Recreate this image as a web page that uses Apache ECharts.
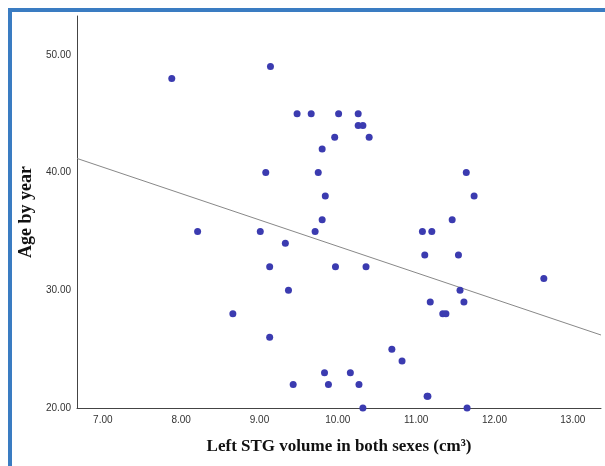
<!DOCTYPE html>
<html>
<head>
<meta charset="utf-8">
<script src="https://cdn.jsdelivr.net/npm/echarts@6/dist/echarts.min.js"></script>
<style>
  html, body { margin: 0; padding: 0; background: #fff; }
  #chart { width: 605px; height: 466px; }
</style>
</head>
<body>
<div id="chart"></div>
<script>
// left STG volume (cm3) and age
var volume = [
  7.88, 9.14, 9.48, 9.66, 10.01, 10.26, 10.26, 10.32, 9.96, 10.40,
  9.80, 9.08, 9.75, 11.64, 9.84, 11.74, 9.80, 11.46, 8.21, 9.01,
  9.71, 11.08, 11.20, 9.33, 11.11, 11.54, 9.13, 9.97, 10.36, 12.63,
  9.37, 11.56, 11.18, 11.61, 8.66, 11.34, 11.38, 9.13, 10.69, 10.82,
  9.83, 10.16, 9.43, 9.88, 10.27, 11.14, 11.15, 10.32, 11.65
];
var age = [
  48, 49, 45, 45, 45, 45, 44, 44, 43, 43,
  42, 40, 40, 40, 38, 38, 36, 36, 35, 35,
  35, 35, 35, 34, 33, 33, 32, 32, 32, 31,
  30, 30, 29, 29, 28, 28, 28, 26, 25, 24,
  23, 23, 22, 22, 22, 21, 21, 20, 20
];
// fit line ends as drawn
var fitX = [6.67, 13.36];
var fitY = [41.2, 26.2];
var xTicks = [7, 8, 9, 10, 11, 12, 13];
var yTicks = [20, 30, 40, 50];

var points = volume.map(function (v, i) { return [v, age[i]]; });
var fit = fitX.map(function (v, i) { return [v, fitY[i]]; });

var chart = echarts.init(document.getElementById('chart'));
chart.setOption({
  backgroundColor: '#fff',
  animation: false,
  graphic: [{
    type: 'rect',
    shape: { x: 10, y: 10, width: 700, height: 600 },
    style: { fill: 'none', stroke: '#3a7cc2', lineWidth: 4 },
    z: 100
  }],
  grid: { left: 77, top: 16, right: 4, bottom: 58 },
  xAxis: {
    type: 'value',
    min: 6.67,
    max: 13.36,
    name: 'Left STG volume in both sexes (cm³)',
    nameLocation: 'middle',
    nameGap: 30,
    nameTextStyle: { fontFamily: 'Liberation Serif', fontWeight: 'bold', fontSize: 17, color: '#111' },
    axisLine: { lineStyle: { color: '#444' } },
    axisTick: { show: false },
    splitLine: { show: false },
    axisLabel: {
      fontFamily: 'Liberation Sans', fontSize: 10, color: '#333', margin: 7,
      customValues: xTicks,
      formatter: function (v) { return v.toFixed(2); }
    }
  },
  yAxis: {
    type: 'value',
    min: 20,
    max: 53.3,
    name: 'Age by year',
    nameLocation: 'middle',
    nameGap: 39,
    nameTextStyle: { fontFamily: 'Liberation Serif', fontWeight: 'bold', fontSize: 18, color: '#111' },
    axisLine: { show: true, lineStyle: { color: '#444' } },
    axisTick: { show: false },
    splitLine: { show: false },
    axisLabel: {
      fontFamily: 'Liberation Sans', fontSize: 10, color: '#333', margin: 6,
      customValues: yTicks,
      formatter: function (v) { return v.toFixed(2); }
    }
  },
  series: [
    {
      type: 'line',
      data: fit,
      symbol: 'none',
      lineStyle: { color: '#888', width: 1 },
      z: 1
    },
    {
      type: 'scatter',
      data: points,
      symbolSize: 7,
      itemStyle: { color: '#3b3bb0', opacity: 1 },
      z: 2
    }
  ]
});
</script>
</body>
</html>
